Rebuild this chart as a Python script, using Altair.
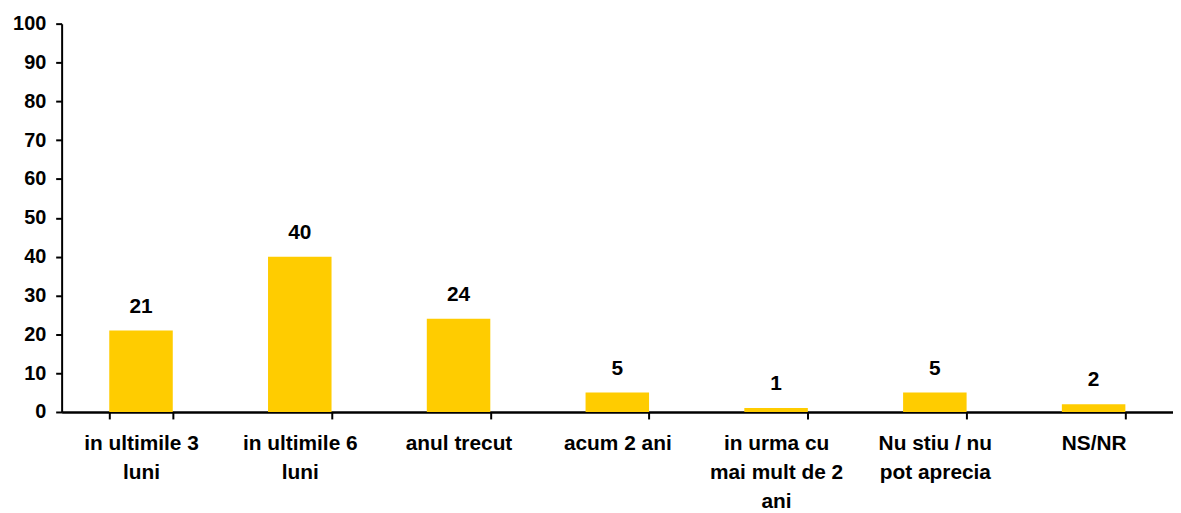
import altair as alt
import pandas as pd

categories = [
    "in ultimile 3\nluni",
    "in ultimile 6\nluni",
    "anul trecut",
    "acum 2 ani",
    "in urma cu\nmai mult de 2\nani",
    "Nu stiu / nu\npot aprecia",
    "NS/NR",
]
values = [21, 40, 24, 5, 1, 5, 2]
y_ticks = [0, 10, 20, 30, 40, 50, 60, 70, 80, 90, 100]

df = pd.DataFrame({"cat": categories, "val": values})

FONT = "Liberation Sans"

x = alt.X(
    "cat:N",
    sort=categories,
    title=None,
    scale=alt.Scale(paddingInner=0.6, paddingOuter=0.3),
    axis=alt.Axis(
        labelExpr="split(datum.label, '\\n')",
        labelAngle=0,
        labelFont=FONT,
        labelFontSize=21,
        labelFontWeight="bold",
        labelColor="black",
        labelLineHeight=29,
        labelPadding=14,
        labelBaseline="top",
        labelOverlap=False,
        tickBand="extent",
        tickSize=7,
        tickWidth=2,
        tickColor="black",
        domainColor="black",
        domainWidth=2.5,
        labelLimit=300,
    ),
)

y = alt.Y(
    "val:Q",
    title=None,
    scale=alt.Scale(domain=[0, 100], nice=False),
    axis=alt.Axis(
        values=y_ticks,
        labelOverlap=False,
        labelFont=FONT,
        labelFontSize=20,
        labelFontWeight="bold",
        labelColor="black",
        labelPadding=10,
        tickSize=6,
        tickWidth=2,
        tickColor="black",
        domainColor="black",
        domainWidth=2,
        grid=False,
    ),
)

base = alt.Chart(df).encode(x=x, y=y)

bars = base.mark_bar(color="#FFCC00")

labels = base.mark_text(
    font=FONT, fontSize=21, fontWeight="bold", color="black",
    baseline="bottom", dy=-14,
).encode(text="val:Q")

chart = (
    alt.layer(bars, labels)
    .properties(
        width=1119,
        height=391,
        autosize=alt.AutoSizeParams(type="none"),
        padding={"left": 54, "top": 14, "right": 0, "bottom": 106},
    )
    .configure_view(stroke=None)
)

chart.save("out.html", embed_options={"renderer": "svg", "actions": False})
